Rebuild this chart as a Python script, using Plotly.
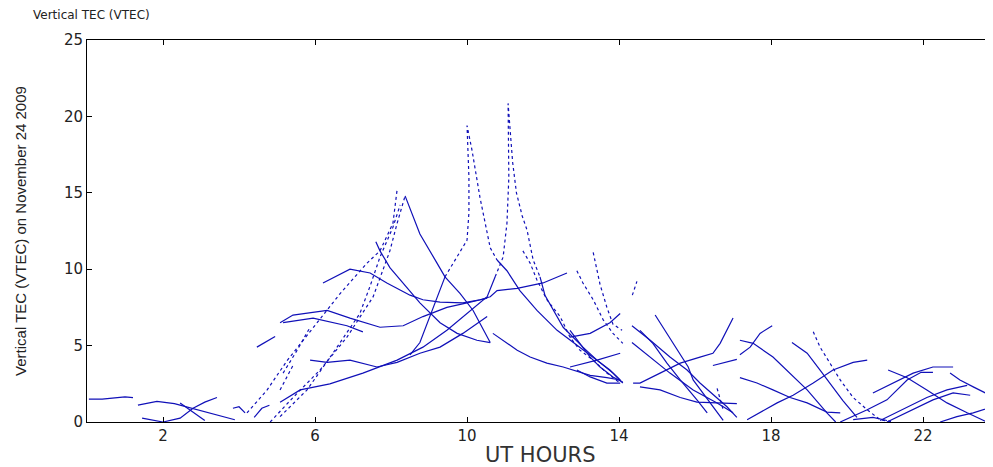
import plotly.graph_objects as go

# ---- data: satellite arcs as (UT hour, VTEC) pairs ----
arc01 = [(0.05, 1.5), (0.4, 1.5), (0.8, 1.6), (1.0, 1.65), (1.21, 1.6)]
arc02 = [(1.34, 1.1), (1.84, 1.35), (2.3, 1.2), (2.84, 0.85), (3.4, 0.45), (3.89, 0.15)]
arc03 = [(1.45, 0.25), (2.0, 0.0), (2.45, 0.25), (2.79, 0.9), (3.1, 1.3), (3.42, 1.6)]
arc04 = [(2.45, 1.25), (3.1, 0.1)]
arc05 = [(3.84, 0.9), (4.0, 1.0), (4.16, 0.6)]
arc06 = [(4.21, 0.6), (4.74, 2.1), (5.26, 4.0), (5.95, 6.2), (6.66, 8.4), (7.37, 10.4),
         (7.71, 11.2), (8.05, 13.0), (8.16, 15.2)]
arc07 = [(4.82, 0.0), (5.42, 1.6), (6.13, 3.4), (6.84, 5.55), (7.53, 8.2), (7.97, 11.2),
         (8.16, 13.0), (8.37, 14.8)]
arc07b = [(8.37, 14.8), (8.55, 13.6), (8.76, 12.3), (9.21, 10.4), (9.42, 9.5), (9.82, 8.4),
          (10.16, 7.3), (10.61, 5.2)]
arc08 = [(5.08, 0.35), (5.79, 2.1), (6.47, 4.5), (7.18, 7.1), (7.45, 8.9), (7.71, 10.8),
         (8.05, 12.75), (8.24, 14.2)]
arc09 = [(5.16, 3.2), (5.53, 4.7), (5.87, 6.2)]
arc10 = [(5.08, 2.1), (5.42, 3.7)]
arc11 = [(4.47, 4.9), (4.95, 5.6)]
arc12 = [(6.21, 9.1), (6.92, 10.0), (7.45, 9.75), (7.89, 9.1), (8.5, 8.3), (8.84, 8.0),
         (9.29, 7.85), (9.89, 7.8), (10.34, 8.0), (10.61, 8.2), (10.79, 8.6), (11.32, 8.75),
         (12.0, 9.1), (12.63, 9.75)]
arc13 = [(5.08, 6.5), (5.42, 7.0), (6.32, 7.3), (6.92, 6.8), (7.71, 6.2), (8.32, 6.3),
         (8.84, 6.9), (9.47, 7.5), (10.0, 7.8), (10.53, 8.1)]
arc14 = [(5.16, 6.5), (5.95, 6.8), (6.84, 6.3), (7.26, 5.9)]
arc15 = [(5.87, 4.05), (6.32, 3.9), (6.92, 4.05), (7.63, 3.6), (8.16, 3.9), (8.76, 4.5),
         (9.29, 4.9), (9.89, 5.8), (10.53, 6.9)]
arc16a = [(5.08, 1.3), (5.61, 2.1), (6.39, 2.5), (7.26, 3.2), (8.16, 4.05), (8.84, 4.9),
          (9.47, 6.0), (10.08, 7.3), (10.53, 8.2), (10.74, 9.5)]
arc16b = [(10.74, 9.5), (10.95, 10.8), (11.05, 13.0), (11.1, 16.0), (11.08, 20.85),
          (11.2, 17.0), (11.3, 15.0), (11.45, 13.5), (11.58, 12.55), (11.74, 10.6), (11.92, 9.5)]
arc16c = [(11.92, 9.5), (12.05, 8.3), (12.53, 6.2), (13.05, 4.9), (13.42, 4.05),
          (13.84, 3.2), (14.1, 2.55)]
arc17a = [(8.5, 4.4), (8.76, 5.2), (9.42, 9.5)]
arc17b = [(9.42, 9.5), (9.82, 11.1), (10.0, 11.9), (10.05, 13.7), (10.05, 16.0), (10.0, 19.4),
          (10.13, 17.8), (10.34, 14.7), (10.61, 11.4), (10.79, 10.6)]
arc17c = [(10.79, 10.6), (11.05, 9.9), (11.39, 8.6), (11.84, 7.3), (12.37, 6.0),
          (12.71, 5.35), (13.05, 4.7), (13.42, 4.05), (13.76, 3.4), (14.03, 2.75)]
arc18 = [(7.6, 11.8), (7.71, 11.2), (7.97, 10.1), (8.42, 8.8), (8.76, 7.8), (9.29, 6.5),
         (9.74, 5.8), (10.26, 5.35), (10.61, 5.2)]
arc19 = [(10.68, 5.8), (11.05, 5.15), (11.32, 4.7), (11.66, 4.25), (12.1, 3.85), (12.53, 3.6),
         (12.79, 3.4), (13.24, 3.05), (13.68, 2.9), (14.03, 2.75)]
arc20 = [(11.47, 11.2), (11.66, 10.4), (11.84, 9.3), (12.1, 8.0), (12.45, 6.9), (12.71, 5.55),
         (12.97, 4.7), (13.32, 4.05), (13.68, 3.2), (14.03, 2.55)]
arc21 = [(12.89, 9.9), (13.05, 9.1), (13.32, 8.0), (13.58, 6.7), (13.84, 5.8), (14.1, 5.15)]
arc22 = [(13.32, 11.1), (13.42, 10.0), (13.5, 9.0), (13.68, 7.5), (13.84, 6.4), (14.08, 6.0)]
arc23 = [(12.71, 5.55), (13.24, 5.8), (13.76, 6.5), (14.03, 7.1)]
arc24 = [(12.71, 3.6), (13.42, 4.05), (14.03, 4.5)]
arc25 = [(12.89, 3.4), (13.24, 2.95), (13.68, 2.55), (14.03, 2.55)]
arc26 = [(12.71, 6.0), (12.97, 5.15), (13.24, 4.25), (13.5, 3.6), (13.84, 2.95), (14.1, 2.6)]
arc27 = [(14.35, 8.3), (14.47, 9.2)]
arc28 = [(14.37, 2.55), (14.55, 2.55), (15.08, 3.2), (15.61, 3.85), (16.13, 4.25), (16.47, 4.5),
         (16.66, 5.15), (16.84, 6.0), (17.0, 6.8)]
arc29 = [(14.34, 6.3), (14.82, 5.35), (15.34, 4.25), (15.79, 3.4), (16.13, 2.55), (16.58, 1.6),
         (16.84, 1.0), (17.1, 0.3)]
arc30 = [(14.95, 7.0), (15.26, 5.8), (15.53, 4.7), (15.82, 3.6), (15.95, 2.75), (16.39, 1.25),
         (16.74, 0.1)]
arc31 = [(14.34, 5.2), (14.82, 4.25), (15.34, 3.2), (15.95, 2.1), (16.58, 1.25), (17.0, 0.6)]
arc32 = [(14.55, 2.3), (15.08, 2.1), (15.61, 1.6), (16.05, 1.3), (16.58, 1.25), (17.1, 1.2)]
arc33 = [(14.55, 6.0), (14.89, 5.15), (15.26, 3.85), (15.61, 2.75), (16.05, 1.45), (16.32, 0.6)]
arc34 = [(16.58, 2.2), (16.66, 1.45), (16.74, 0.8)]
arc35 = [(17.18, 5.35), (17.53, 5.15), (18.05, 4.25), (18.5, 3.2), (18.95, 2.1), (19.47, 0.6),
         (19.7, 0.0)]
arc36 = [(17.18, 4.4), (17.45, 4.9), (17.71, 5.8), (18.03, 6.3)]
arc37 = [(18.55, 5.2), (18.95, 4.5), (19.29, 3.4), (19.63, 2.3), (19.89, 1.4), (20.26, 0.3)]
arc38 = [(19.11, 5.9), (19.29, 4.9), (19.55, 3.85), (19.82, 2.75), (20.16, 1.6), (20.53, 0.8),
         (20.87, 0.15), (21.21, 0.0)]
arc39 = [(17.37, 0.15), (17.71, 0.6), (18.16, 1.25), (18.58, 1.75), (19.11, 2.55), (19.63, 3.4),
         (20.16, 3.9), (20.53, 4.05)]
arc40 = [(17.18, 2.9), (17.63, 2.55), (18.05, 2.1), (18.5, 1.6), (18.95, 1.25), (19.47, 0.65),
         (19.82, 0.6)]
arc41 = [(21.08, 3.4), (21.58, 2.9), (22.1, 2.1), (22.63, 1.25), (23.16, 0.6), (23.68, 0.0)]
arc42 = [(22.71, 3.2), (22.97, 2.75), (23.32, 2.3), (23.84, 1.65)]
arc43 = [(19.82, 0.0), (20.53, 0.8), (21.05, 1.45), (21.58, 2.75), (21.95, 3.25), (22.26, 3.25)]
arc44 = [(20.87, 0.1), (21.58, 0.95), (22.1, 1.6), (22.63, 2.1), (23.16, 2.4)]
arc45 = [(21.05, 0.0), (21.74, 0.8), (22.26, 1.45), (22.79, 1.9), (23.24, 1.75)]
arc46 = [(22.45, 0.0), (22.89, 0.35), (23.32, 0.6), (23.84, 1.0)]
arc47 = [(20.16, 0.15), (20.68, 0.3), (21.05, 0.1)]
arc48 = [(20.68, 1.9), (21.21, 2.55), (21.74, 3.2), (22.26, 3.6), (22.79, 3.6)]
arc49 = [(16.47, 3.7), (17.1, 4.1)]
arc50 = [(4.4, 0.3), (4.6, 0.9), (4.8, 1.1)]

x_ticks = [2, 6, 10, 14, 18, 22]
y_ticks = [0, 5, 10, 15, 20, 25]
title_text = "Vertical TEC (VTEC)"
x_title = "UT HOURS"
y_title = "Vertical TEC (VTEC) on November 24 2009"

solid_arcs = [arc01, arc02, arc03, arc04, arc05, arc07b, arc11, arc12, arc13, arc14, arc15,
              arc16a, arc16c, arc17a, arc17c, arc18, arc19, arc23, arc24, arc25, arc26,
              arc28, arc29, arc30, arc31, arc32, arc33, arc35, arc36, arc37, arc39, arc40,
              arc41, arc42, arc43, arc44, arc45, arc46, arc47, arc48, arc49, arc50]
dotted_arcs = [arc06, arc07, arc08, arc09, arc10, arc16b, arc17b, arc20, arc21, arc22,
               arc27, arc34, arc38]

LINE_COLOR = "#1010b8"
FONT = "Liberation Sans, Arial, sans-serif"
WIDE_FONT = "DejaVu Sans, Verdana, sans-serif"

fig = go.Figure()
for arcs, dash in ((solid_arcs, "solid"), (dotted_arcs, "dot")):
    for arc in arcs:
        fig.add_trace(go.Scatter(
            x=[p[0] for p in arc], y=[p[1] for p in arc], mode="lines",
            line=dict(color=LINE_COLOR, width=1.2, dash=dash),
            showlegend=False, hoverinfo="skip"))

axis_common = dict(showline=True, linecolor="black", linewidth=1, mirror="ticks",
                   ticks="inside", ticklen=5, tickcolor="black", showgrid=False,
                   zeroline=False, tickfont=dict(family=WIDE_FONT, size=15, color="#222"))

# the page body adds an 8px offset at top/left; size the figure to compensate
fig.update_layout(
    width=985, height=459,
    margin=dict(l=79, r=0, t=32, b=45),
    paper_bgcolor="white", plot_bgcolor="white",
    xaxis=dict(range=[0, 23.84], tickvals=x_ticks, ticktext=[str(v) for v in x_ticks],
               **axis_common),
    yaxis=dict(range=[0, 25], tickvals=y_ticks, ticktext=[str(v) for v in y_ticks],
               **axis_common),
    annotations=[
        dict(text=title_text, xref="paper", yref="paper", x=-0.062, y=1.065,
             xanchor="left", yanchor="middle", showarrow=False,
             font=dict(family=WIDE_FONT, size=12, color="#222")),
        dict(text=x_title, xref="paper", yref="paper", x=0.5, y=-0.087,
             xanchor="center", yanchor="middle", showarrow=False,
             font=dict(family=WIDE_FONT, size=21, color="#333")),
        dict(text=y_title, xref="paper", yref="paper", x=-0.074, y=0.5,
             xanchor="center", yanchor="middle", showarrow=False, textangle=-90,
             font=dict(family=FONT, size=15, color="#222")),
    ],
)

fig.write_html("out.html")
